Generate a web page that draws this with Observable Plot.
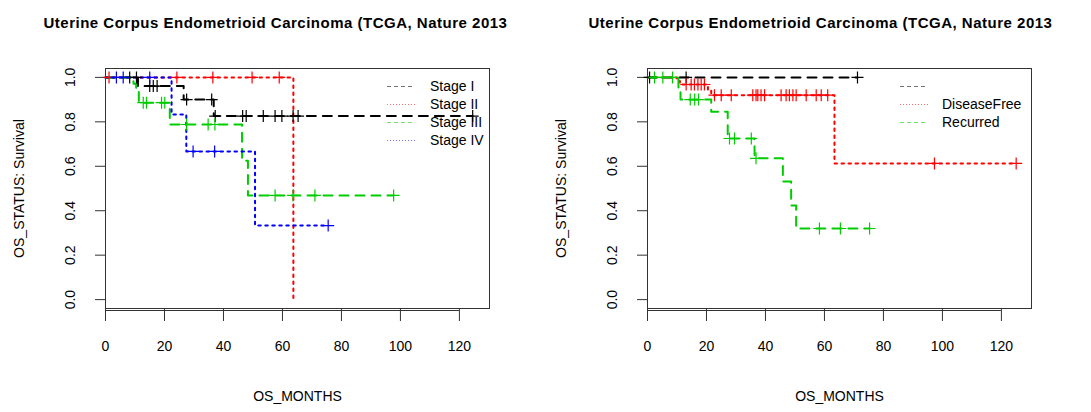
<!DOCTYPE html>
<html><head><meta charset="utf-8">
<script src="https://cdn.jsdelivr.net/npm/d3@7"></script>
<script src="https://cdn.jsdelivr.net/npm/@observablehq/plot@0.6"></script>
<style>
body{margin:0;background:#fff;font-family:"Liberation Sans",Arial,sans-serif;}
#wrap{position:relative;width:1091px;height:412px;overflow:hidden;}
.panel{position:absolute;top:0;}
</style></head><body><div id="wrap"></div>
<script>
// ---- shared axis data ----
const titleText = "Uterine Corpus Endometrioid Carcinoma (TCGA, Nature 2013";
const xLabel = "OS_MONTHS";
const yLabel = "OS_STATUS: Survival";
const xTicks = [0, 20, 40, 60, 80, 100, 120];
const yTicks = [0, 0.2, 0.4, 0.6, 0.8, 1.0];
const xDomain = [0, 130.2];
const yDomain = [-0.04, 1.04];

// ---- left panel: stage ----
const stageNames = ["Stage I", "Stage II", "Stage III", "Stage IV"];
const stageColors = ["#000000", "#FF0000", "#00CD00", "#0000FF"];
const stageDash = ["dash", "dot", "dash", "dot"];
const stageITimes = [0, 11, 26.5, 36.7, 124.5];
const stageISurv  = [1, 0.961, 0.900, 0.826, 0.826];
const stageICens  = [8.2, 10.5, 15, 16.2, 17.5, 27.5, 36.0, 37.2, 46.5, 47.7, 53.5, 57.5, 59.8, 63.6, 65.3, 124.5];
const stageIITimes = [0, 63.7];
const stageIISurv  = [1, 0];
const stageIICens  = [1.2, 24.2, 36.4, 49.7, 58.9];
const stageIIITimes = [0, 9.5, 10.4, 11.3, 21.8, 46.3, 48.3, 97.7];
const stageIIISurv  = [1, 0.971, 0.943, 0.886, 0.788, 0.625, 0.469, 0.469];
const stageIIICens  = [12.8, 13.9, 19, 20.1, 27.5, 34.8, 37.1, 57.5, 63.6, 71, 97.7];
const stageIVTimes = [0, 22.4, 27.4, 50.7, 75.5];
const stageIVSurv  = [1, 0.833, 0.667, 0.333, 0.333];
const stageIVCens  = [3.7, 6.0, 15, 29.7, 37, 75.5];

// ---- right panel: disease status ----
const statusNames = ["", "DiseaseFree", "Recurred"];
const statusColors = ["#000000", "#FF0000", "#00CD00"];
const statusDash = ["dash", "dot", "dash"];
const blankTimes = [0, 71.2];
const blankSurv  = [1, 1];
const blankCens  = [0.7, 13.1, 71.2];
const freeTimes = [0, 10, 11, 20.5, 21.6, 63.4, 125];
const freeSurv  = [1, 0.984, 0.968, 0.944, 0.92, 0.613, 0.613];
const freeCens  = [13.1, 14.8, 15.9, 17.1, 18.2, 19.3, 22.7, 25.0, 28.4, 35.7, 36.8, 37.4, 38.5, 39.7, 45.3, 47.0, 48.1, 49.3, 50.4, 53.8, 57.2, 58.9, 61.1, 97.3, 125];
const recTimes = [0, 10.5, 11.2, 21.6, 27.2, 36.3, 45.9, 48.7, 50.4, 75.3];
const recSurv  = [1, 0.95, 0.90, 0.845, 0.725, 0.636, 0.531, 0.424, 0.32, 0.32];
const recCens  = [2.4, 5.2, 8.5, 14.5, 16, 17.3, 27.8, 29.5, 35.2, 36.8, 58.3, 65.4, 75.3];

const dashes = {dash: "9,7", dot: "2.5,4.5"};
const legendDashes = {dash: "4,3", dot: "1,2"};

const thinPlus = {
  draw(ctx, size) {
    const h = Math.sqrt(size / Math.PI);
    ctx.moveTo(-h, 0); ctx.lineTo(h, 0);
    ctx.moveTo(0, -h); ctx.lineTo(0, h);
  }
};

function survAt(times, surv, t) {
  let v = surv[0];
  for (let i = 0; i < times.length; i++) if (times[i] <= t) v = surv[i];
  return v;
}

const FONT = '"Liberation Sans", Arial, sans-serif';

function panel({series, names, colors, dashKeys, left, width, marginLeft, marginRight, legend}) {
  const marks = [];
  series.forEach((s, i) => {
    const pts = s.times.map((t, j) => ({t, s: s.surv[j]}));
    marks.push(Plot.line(pts, {x: "t", y: "s", curve: "step-after", stroke: colors[i],
      strokeWidth: 2, strokeDasharray: dashes[dashKeys[i]]}));
  });
  series.forEach((s, i) => {
    const pts = s.cens.map(t => ({t, s: survAt(s.times, s.surv, t)}));
    marks.push(Plot.dot(pts, {x: "t", y: "s", symbol: thinPlus, r: 6, stroke: colors[i],
      strokeWidth: 1.2, fill: "none"}));
  });
  const fs = 14;
  const chart = Plot.plot({
    width, height: 412, marginLeft, marginRight, marginTop: 68, marginBottom: 104,
    style: {fontFamily: FONT, fontSize: fs + "px", color: "#000", background: "transparent"},
    x: {domain: xDomain, axis: null},
    y: {domain: yDomain, axis: null},
    marks: [
      Plot.frame({stroke: "#333", strokeWidth: 1}),
      Plot.axisY({ticks: yTicks, tickSize: 10, tickFormat: () => "", label: null, stroke: "#333"}),
      Plot.axisX({ticks: xTicks, tickSize: 13, tickFormat: () => "", label: null, stroke: "#333"}),
      Plot.ruleY([yDomain[0]], {x1: xTicks[0], x2: xTicks[xTicks.length - 1], dy: 2, stroke: "#333"}),
      Plot.text(xTicks, {x: d => d, frameAnchor: "bottom", dy: 42, textAnchor: "middle", text: d => String(d), fontSize: fs, fill: "#000"}),
      Plot.text(yTicks, {y: d => d, frameAnchor: "left", dx: -35, rotate: -90, textAnchor: "middle", text: d => d.toFixed(1), fontSize: fs, fill: "#000"}),
      Plot.text([xLabel], {frameAnchor: "bottom", dy: 92, textAnchor: "middle", text: d => d, fontSize: fs, fill: "#000"}),
      Plot.text([yLabel], {frameAnchor: "left", dx: -86, rotate: -90, textAnchor: "middle", text: d => d, fontSize: fs, fill: "#000"}),
      Plot.text([titleText], {frameAnchor: "top-left", dx: 43 - marginLeft, dy: -51, textAnchor: "start",
        text: d => d, fontSize: 15, fontWeight: "bold", fill: "#000"}),
      ...marks
    ]
  });
  const svg = d3.select(chart);
  // widen title glyph spacing to match the reference
  svg.selectAll("text").filter(function() { return this.textContent === titleText; })
    .attr("letter-spacing", "0.5px");
  const g = svg.append("g").attr("font-size", fs).attr("font-family", FONT).attr("text-anchor", "start");
  names.forEach((n, i) => {
    const y = legend.y0 + legend.dy * i + 0.5;
    g.append("line").attr("x1", legend.x1).attr("x2", legend.x2).attr("y1", y).attr("y2", y)
      .attr("stroke", colors[i]).attr("stroke-width", 1).attr("stroke-opacity", 0.55)
      .attr("stroke-dasharray", legendDashes[dashKeys[i]]);
    g.append("text").attr("x", legend.tx).attr("y", y).attr("dy", "0.35em")
      .attr("text-anchor", "start").attr("fill", "#000").text(n);
  });
  const div = document.createElement("div");
  div.className = "panel";
  div.style.left = left + "px";
  div.appendChild(chart);
  document.getElementById("wrap").appendChild(div);
}

panel({
  series: [
    {times: stageITimes, surv: stageISurv, cens: stageICens},
    {times: stageIITimes, surv: stageIISurv, cens: stageIICens},
    {times: stageIIITimes, surv: stageIIISurv, cens: stageIIICens},
    {times: stageIVTimes, surv: stageIVSurv, cens: stageIVCens}
  ],
  names: stageNames, colors: stageColors, dashKeys: stageDash,
  left: 0, width: 545, marginLeft: 105, marginRight: 56,
  legend: {x1: 387, x2: 415, tx: 430, y0: 86, dy: 18}
});

panel({
  series: [
    {times: blankTimes, surv: blankSurv, cens: blankCens},
    {times: freeTimes, surv: freeSurv, cens: freeCens},
    {times: recTimes, surv: recSurv, cens: recCens}
  ],
  names: statusNames, colors: statusColors, dashKeys: statusDash,
  left: 545, width: 546, marginLeft: 102, marginRight: 60,
  legend: {x1: 355, x2: 383, tx: 397, y0: 86, dy: 18}
});
</script></body></html>
